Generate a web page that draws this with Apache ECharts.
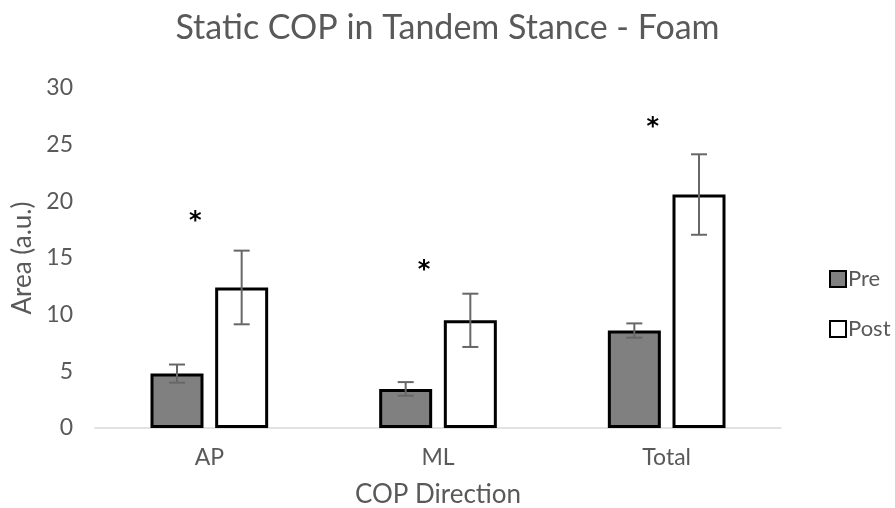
<!DOCTYPE html>
<html><head><meta charset="utf-8">
<script src="https://cdn.jsdelivr.net/npm/echarts@6/dist/echarts.min.js"></script>
<style>html,body{margin:0;padding:0;background:#fff}#c{width:895px;height:508px}</style>
</head><body><div id="c"></div>
<script>
const categories = ['AP', 'ML', 'Total'];
const preValues = [4.8, 3.45, 8.6];
const preErrors = [0.8, 0.6, 0.63];
const postValues = [12.4, 9.5, 20.6];
const postErrors = [3.25, 2.35, 3.55];
const starValues = [18.7, 14.4, 27.0];
const yTicks = [0, 5, 10, 15, 20, 25, 30];

const FONT = 'Lato';
const TXT = '#595959';
const BAR_W = 53, BAR_GAP = 0.22, BORDER = 3;
const half = (BAR_W * (1 + BAR_GAP)) / 2;

function errSeries(vals, errs, dx) {
  return {
    type: 'custom', silent: true, z: 5,
    data: categories.map((c, i) => [i, vals[i], errs[i]]),
    renderItem: function (params, api) {
      const i = api.value(0), v = api.value(1), e = api.value(2);
      const top = api.coord([i, v + e]);
      const bot = api.coord([i, v - e]);
      const x = top[0] + dx;
      const cap = 8;
      const st = { stroke: '#676767', lineWidth: 2 };
      return { type: 'group', children: [
        { type: 'line', shape: { x1: x, y1: top[1], x2: x, y2: bot[1] }, style: st },
        { type: 'line', shape: { x1: x - cap, y1: top[1], x2: x + cap, y2: top[1] }, style: st },
        { type: 'line', shape: { x1: x - cap, y1: bot[1], x2: x + cap, y2: bot[1] }, style: st }
      ]};
    }
  };
}

const chart = echarts.init(document.getElementById('c'));
chart.setOption({
  animation: false,
  textStyle: { fontFamily: FONT },
  title: {
    text: 'Static COP in Tandem Stance - Foam', left: 'center', top: 6,
    textStyle: { fontFamily: FONT, fontSize: 34, fontWeight: 'normal', color: TXT }
  },
  legend: {
    orient: 'vertical', left: 824, top: 263, itemGap: 28,
    itemWidth: 16, itemHeight: 16, icon: 'rect',
    textStyle: { fontFamily: FONT, fontSize: 22, color: TXT, padding: [0, 0, 0, -3] },
    data: ['Pre', 'Post']
  },
  grid: { left: 95, right: 114, top: 88, bottom: 80, containLabel: false, outerBoundsMode: 'none' },
  xAxis: {
    type: 'category', data: categories,
    name: 'COP Direction', nameLocation: 'middle', nameGap: 54,
    nameTextStyle: { fontFamily: FONT, fontSize: 26, color: TXT },
    axisLine: { lineStyle: { color: '#d9d9d9', width: 1.5 } },
    axisTick: { show: false },
    axisLabel: { fontFamily: FONT, fontSize: 23, color: TXT, margin: 18 }
  },
  yAxis: {
    type: 'value', min: yTicks[0], max: yTicks[yTicks.length - 1], interval: 5,
    name: 'Area (a.u.)', nameLocation: 'middle', nameGap: 55,
    nameTextStyle: { fontFamily: FONT, fontSize: 26, color: TXT },
    splitLine: { show: false },
    axisLine: { show: false }, axisTick: { show: false },
    axisLabel: { fontFamily: FONT, fontSize: 23, color: TXT, margin: 22 }
  },
  series: [
    { name: 'Pre', type: 'bar', data: preValues, barWidth: BAR_W, barGap: (BAR_GAP * 100) + '%',
      itemStyle: { color: '#808080', borderColor: '#000', borderWidth: BORDER } },
    { name: 'Post', type: 'bar', data: postValues, barWidth: BAR_W,
      itemStyle: { color: '#ffffff', borderColor: '#000', borderWidth: BORDER } },
    errSeries(preValues, preErrors, -half),
    errSeries(postValues, postErrors, half),
    { type: 'custom', silent: true, z: 6,
      data: categories.map((c, i) => [i, starValues[i]]),
      renderItem: function (params, api) {
        const p = api.coord([api.value(0), api.value(1)]);
        return { type: 'text', x: p[0] - 14, y: p[1] + 6,
          style: { text: '*', fill: '#000', font: 'bold 24px "DejaVu Sans"',
            align: 'center', verticalAlign: 'middle' } };
      } }
  ]
});
</script></body></html>
